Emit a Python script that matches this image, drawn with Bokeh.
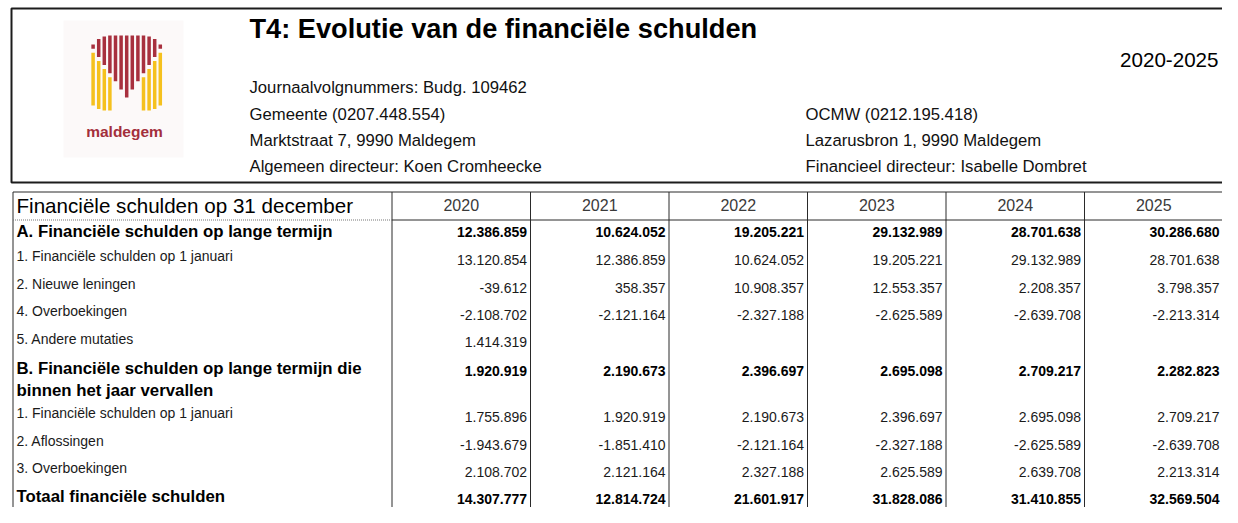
from bokeh.plotting import figure
from bokeh.models import Range1d, ColumnDataSource
from bokeh.core.properties import value
from bokeh.embed import file_html
from bokeh.resources import INLINE

# ---------------- data ----------------
title = "T4: Evolutie van de financiële schulden"
period = "2020-2025"
info_left = ["Journaalvolgnummers: Budg. 109462", "Gemeente (0207.448.554)",
             "Marktstraat 7, 9990 Maldegem", "Algemeen directeur: Koen Cromheecke"]
info_right = ["OCMW (0212.195.418)", "Lazarusbron 1, 9990 Maldegem",
              "Financieel directeur: Isabelle Dombret"]
header_label = "Financiële schulden op 31 december"
years = ["2020", "2021", "2022", "2023", "2024", "2025"]

row_labels = [
    "A. Financiële schulden op lange termijn",
    "1. Financiële schulden op 1 januari",
    "2. Nieuwe leningen",
    "4. Overboekingen",
    "5. Andere mutaties",
    "B. Financiële schulden op lange termijn die\nbinnen het jaar vervallen",
    "1. Financiële schulden op 1 januari",
    "2. Aflossingen",
    "3. Overboekingen",
    "Totaal financiële schulden",
]
row_bold = [True, False, False, False, False, True, False, False, False, True]

a_total = ["12.386.859", "10.624.052", "19.205.221", "29.132.989", "28.701.638", "30.286.680"]
a_jan = ["13.120.854", "12.386.859", "10.624.052", "19.205.221", "29.132.989", "28.701.638"]
a_new_loans = ["-39.612", "358.357", "10.908.357", "12.553.357", "2.208.357", "3.798.357"]
a_transfers = ["-2.108.702", "-2.121.164", "-2.327.188", "-2.625.589", "-2.639.708", "-2.213.314"]
a_other = ["1.414.319", "", "", "", "", ""]
b_total = ["1.920.919", "2.190.673", "2.396.697", "2.695.098", "2.709.217", "2.282.823"]
b_jan = ["1.755.896", "1.920.919", "2.190.673", "2.396.697", "2.695.098", "2.709.217"]
b_repayments = ["-1.943.679", "-1.851.410", "-2.121.164", "-2.327.188", "-2.625.589", "-2.639.708"]
b_transfers = ["2.108.702", "2.121.164", "2.327.188", "2.625.589", "2.639.708", "2.213.314"]
grand_total = ["14.307.777", "12.814.724", "21.601.917", "31.828.086", "31.410.855", "32.569.504"]
row_values = [a_total, a_jan, a_new_loans, a_transfers, a_other,
              b_total, b_jan, b_repayments, b_transfers, grand_total]

# ---------------- layout (picture pixel coordinates) ----------------
W, H = 1222, 507
FONT = value("Liberation Sans")

p = figure(width=W, height=H, x_range=Range1d(0, W), y_range=Range1d(H, 0),
           output_backend="svg", toolbar_location=None, min_border=0)
p.axis.visible = False
p.grid.visible = False
p.outline_line_color = None
p.background_fill_color = "white"
p.border_fill_color = "white"

# header box
p.quad(left=[11], right=[W + 20], top=[8], bottom=[182], fill_color=None,
       line_color="#1c1c1c", line_width=2)

# logo background
p.quad(left=[63], right=[183], top=[20], bottom=[157], fill_color="#fcf9f9", line_color=None)

# logo stripes (M shape)
n_str = 13
pitch = 5.6
sw = 1.75
x0 = 92.6
cx = x0 + pitch * (n_str - 1) / 2
tops_edge = [44, 38.5, 36]
bots_edge = [105, 108.5, 110]
red_l, red_r, red_t, red_b = [], [], [], []
yel_l, yel_r, yel_t, yel_b = [], [], [], []
for i in range(n_str):
    xc = x0 + pitch * i
    k = min(i, n_str - 1 - i)
    top = tops_edge[k] if k < 3 else 35
    bot = bots_edge[k] if k < 3 else 110
    rb = 97 - 1.45 * abs(xc - cx)
    if rb > top + 1:
        red_l.append(xc - sw); red_r.append(xc + sw); red_t.append(top); red_b.append(rb)
    if k <= 3:
        yel_l.append(xc - sw); yel_r.append(xc + sw); yel_t.append(max(rb + 4, top)); yel_b.append(bot)
p.quad(left=red_l, right=red_r, top=red_t, bottom=red_b, fill_color="#a8303e", line_color=None)
p.quad(left=yel_l, right=yel_r, top=yel_t, bottom=yel_b, fill_color="#f5c11e", line_color=None)
p.text(x=[124], y=[131], text=["maldegem"], text_font=FONT, text_font_size="15.5px",
       text_font_style="bold", text_color="#a32f3c", text_align="center", text_baseline="middle")

# title and info
p.text(x=[249], y=[28], text=[title], text_font=FONT, text_font_size="27.2px",
       text_font_style="bold", text_color="#000000", text_baseline="middle")
p.text(x=[1218], y=[59], text=[period], text_font=FONT, text_font_size="20.6px",
       text_color="#000000", text_align="right", text_baseline="middle")
info_y = [87, 114, 140, 166]
p.text(x=[249] * 4, y=info_y, text=info_left, text_font=FONT, text_font_size="16.7px",
       text_color="#111111", text_baseline="middle")
p.text(x=[805] * 3, y=info_y[1:], text=info_right, text_font=FONT, text_font_size="16.7px",
       text_color="#111111", text_baseline="middle")

# table grid (year columns slightly narrowed so the last column fits in the page)
tbl_left = 12.5
tbl_top = 191.5
hdr_bot = 219.5
col0_right = 391.5
col_w = 138.5
col_edges = [col0_right + col_w * i for i in range(len(years) + 1)]
bottom = H + 5
line_c = "#2a2a2a"
p.segment(x0=[tbl_left], y0=[tbl_top], x1=[W + 20], y1=[tbl_top], line_color=line_c, line_width=1)
p.segment(x0=[tbl_left] + col_edges, y0=[tbl_top] * (len(col_edges) + 1),
          x1=[tbl_left] + col_edges, y1=[bottom] * (len(col_edges) + 1),
          line_color=line_c, line_width=1)
p.segment(x0=[col0_right], y0=[hdr_bot], x1=[W + 20], y1=[hdr_bot], line_color=line_c, line_width=1)
p.segment(x0=[tbl_left], y0=[hdr_bot], x1=[col0_right], y1=[hdr_bot], line_color="#777777",
          line_width=1, line_dash="1 1")

# header texts
p.text(x=[16], y=[205], text=[header_label], text_font=FONT, text_font_size="20.6px",
       text_color="#000000", text_baseline="middle")
col_centers = [(col_edges[i] + col_edges[i + 1]) / 2 for i in range(len(years))]
p.text(x=col_centers, y=[204] * len(years), text=years, text_font=FONT, text_font_size="16px",
       text_color="#3a3a3a", text_align="center", text_baseline="middle")

# rows (slightly compressed vertically so the last row fits in the page)
squeeze = 0.946
ref_value_y = [232, 262, 291, 320, 349, 379, 428, 457, 486, 514]
ref_label_y = [232, 258, 287, 316, 345, 377, 424, 453, 482, 512]
value_y = [219 + (y - 219) * squeeze for y in ref_value_y]
label_y = [219 + (y - 219) * squeeze for y in ref_label_y]

lab_reg = dict(x=[], y=[], t=[])
lab_bold = dict(x=[], y=[], t=[])
val_reg = dict(x=[], y=[], t=[])
val_bold = dict(x=[], y=[], t=[])
for r, lab in enumerate(row_labels):
    lines = lab.split("\n")
    tgt_l = lab_bold if row_bold[r] else lab_reg
    tgt_v = val_bold if row_bold[r] else val_reg
    for j, ln in enumerate(lines):
        tgt_l["x"].append(16); tgt_l["y"].append(label_y[r] + 21.5 * j); tgt_l["t"].append(ln)
    for c, v in enumerate(row_values[r]):
        if v:
            tgt_v["x"].append(col_edges[c + 1] - 3.5); tgt_v["y"].append(value_y[r]); tgt_v["t"].append(v)

p.text(x="x", y="y", text="t", source=ColumnDataSource(lab_reg), text_font=FONT,
       text_font_size="14px", text_color="#1a1a1a", text_baseline="middle")
p.text(x="x", y="y", text="t", source=ColumnDataSource(lab_bold), text_font=FONT,
       text_font_size="16.8px", text_font_style="bold", text_color="#000000", text_baseline="middle")
p.text(x="x", y="y", text="t", source=ColumnDataSource(val_reg), text_font=FONT,
       text_font_size="14px", text_color="#1a1a1a", text_align="right", text_baseline="middle")
p.text(x="x", y="y", text="t", source=ColumnDataSource(val_bold), text_font=FONT,
       text_font_size="14px", text_font_style="bold", text_color="#000000", text_align="right",
       text_baseline="middle")

open("out.html", "w").write(file_html(p, INLINE))
